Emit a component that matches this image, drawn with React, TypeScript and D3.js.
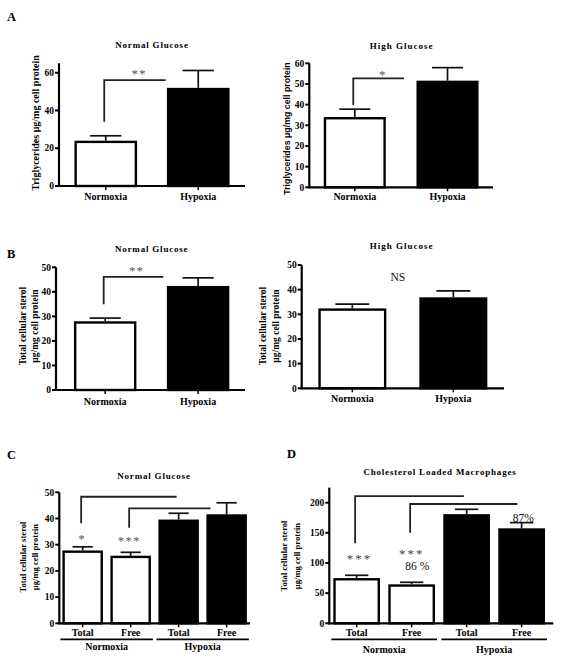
import React from "react";
import * as d3 from "d3";

const SERIF = "'Liberation Serif', 'Times New Roman', serif";
const SANS = "'Liberation Sans', Arial, sans-serif";

// ---------- Data ----------
const twoCats = ["Normoxia", "Hypoxia"];

const aNormalVals = [24, 52];
const aNormalErr = [2.6, 9.2];
const aNormalTicks = [0, 20, 40, 60];

const aHighVals = [34, 51.6];
const aHighErr = [3.8, 6.3];
const aHighTicks = [0, 10, 20, 30, 40, 50, 60];

const bNormalVals = [28, 42.4];
const bNormalErr = [1.3, 3.3];
const bHighVals = [32.4, 36.9];
const bHighErr = [1.7, 2.6];
const bTicks = [0, 10, 20, 30, 40, 50];

const fourCats = ["Total", "Free", "Total", "Free"];
const fourGroups = ["Normoxia", "Hypoxia"];

const cVals = [27.8, 25.8, 39.6, 41.6];
const cErr = [1.4, 1.3, 2.4, 4.4];
const cTicks = [0, 10, 20, 30, 40, 50];

const dVals = [75, 64.6, 181, 157.5];
const dErr = [4.6, 3.4, 8, 9.4];
const dTicks = [0, 50, 100, 150, 200];

type Bracket = { from: number; to: number; toPos: number; low: number; high: number };
type Note = { text: string; i: number; frac: number; v: number; size: number; weight?: string; ls?: number; fill?: string };

interface PanelProps {
  cats: string[];
  vals: number[];
  errs: number[];
  fills: string[];
  ticks: number[];
  max: number;
  x0: number;
  x1: number;
  y0: number;
  yTop: number;
  pi: number;
  po: number;
  align?: number;
  title: string;
  titleX: number;
  titleY: number;
  titleLs?: number;
  yLabel: string[];
  yLabelX: number[];
  yLabelY: number;
  yLabelSize: number;
  yLabelFont?: string;
  catY: number;
  catSize?: number;
  groups?: string[];
  groupLineY?: number;
  groupY?: number;
  brackets: Bracket[];
  notes: Note[];
  letter?: string;
  letterX?: number;
  letterY?: number;
}

function Panel(p: PanelProps) {
  const x = d3
    .scaleBand<number>()
    .domain(p.cats.map((_, i) => i))
    .range([p.x0, p.x1])
    .paddingInner(p.pi)
    .paddingOuter(p.po)
    .align(p.align ?? 0.5);
  const y = d3.scaleLinear().domain([0, p.max]).range([p.y0, p.yTop]);
  const bw = x.bandwidth();
  const cx = (i: number) => (x(i) as number) + bw / 2;

  return (
    <g>
      {p.letter && (
        <text x={p.letterX} y={p.letterY} fontFamily={SERIF} fontWeight="bold" fontSize={12.5}>
          {p.letter}
        </text>
      )}
      <text
        x={p.titleX}
        y={p.titleY}
        textAnchor="middle"
        fontFamily={SERIF}
        fontWeight="bold"
        fontSize={9}
        letterSpacing={p.titleLs ?? 0.8}
      >
        {p.title}
      </text>
      {p.yLabel.map((l, k) => (
        <text
          key={k}
          transform={`translate(${p.yLabelX[k]},${p.yLabelY}) rotate(-90)`}
          textAnchor="middle"
          fontFamily={p.yLabelFont ?? SERIF}
          fontWeight="bold"
          fontSize={p.yLabelSize}
        >
          {l}
        </text>
      ))}
      {p.vals.map((v, i) => (
        <g key={i}>
          <line x1={cx(i)} x2={cx(i)} y1={y(v)} y2={y(v + p.errs[i])} stroke="#111" strokeWidth={1.7} />
          <line
            x1={cx(i) - bw / 4}
            x2={cx(i) + bw / 4}
            y1={y(v + p.errs[i])}
            y2={y(v + p.errs[i])}
            stroke="#111"
            strokeWidth={1.7}
          />
          <rect
            x={(x(i) as number) + 1.2}
            y={y(v) + 1.2}
            width={bw - 2.4}
            height={y(0) - y(v) - 1.2}
            fill={p.fills[i]}
            stroke="#000"
            strokeWidth={2.4}
          />
        </g>
      ))}
      {p.brackets.map((b, k) => {
        const bx = cx(b.from) - 1.5;
        const ex = (x(b.to) as number) + b.toPos * bw;
        return (
          <path
            key={k}
            d={`M${bx},${y(b.low)}V${y(b.high)}H${ex}`}
            fill="none"
            stroke="#222"
            strokeWidth={1.8}
          />
        );
      })}
      {p.notes.map((n, k) => (
        <text
          key={k}
          x={(x(n.i) as number) + n.frac * bw}
          y={y(n.v)}
          textAnchor="middle"
          fontFamily={SERIF}
          fontWeight={n.weight ?? "normal"}
          fontSize={n.size}
          letterSpacing={n.ls ?? 0}
          fill={n.fill ?? "#111"}
        >
          {n.text}
        </text>
      ))}
      <line x1={p.x0} x2={p.x0} y1={y(0) + 1} y2={p.yTop} stroke="#000" strokeWidth={2.2} />
      <line x1={p.x0 - 1} x2={p.x1} y1={y(0)} y2={y(0)} stroke="#000" strokeWidth={2.2} />
      {p.ticks.map((t) => (
        <g key={t}>
          <line x1={p.x0 - 4} x2={p.x0} y1={y(t)} y2={y(t)} stroke="#000" strokeWidth={2} />
          <text
            x={p.x0 - 5}
            y={y(t) + 3.2}
            textAnchor="end"
            fontFamily={SERIF}
            fontWeight="bold"
            fontSize={9.5}
          >
            {t}
          </text>
        </g>
      ))}
      {p.cats.map((c, i) => (
        <g key={i}>
          <line x1={cx(i)} x2={cx(i)} y1={y(0)} y2={y(0) + 4} stroke="#000" strokeWidth={1.5} />
          <text
            x={cx(i)}
            y={p.catY}
            textAnchor="middle"
            fontFamily={SERIF}
            fontWeight="bold"
            fontSize={p.catSize ?? 10}
          >
            {c}
          </text>
        </g>
      ))}
      {p.groups &&
        p.groups.map((g, gi) => {
          const first = gi * 2;
          const last = gi * 2 + 1;
          const gx0 = (x(first) as number) - 2;
          const gx1 = (x(last) as number) + bw + 2;
          return (
            <g key={g}>
              <line x1={gx0} x2={gx1} y1={p.groupLineY} y2={p.groupLineY} stroke="#000" strokeWidth={1.8} />
              <text
                x={(gx0 + gx1) / 2}
                y={p.groupY}
                textAnchor="middle"
                fontFamily={SERIF}
                fontWeight="bold"
                fontSize={10}
              >
                {g}
              </text>
            </g>
          );
        })}
    </g>
  );
}

export default function App() {
  const wb = ["white", "black"];
  const wwbb = ["white", "white", "black", "black"];
  const star = { size: 13, ls: 1, fill: "#555" };
  return (
    <svg
      width={562}
      height={656}
      viewBox="0 0 562 656"
      style={{ position: "absolute", left: 0, top: 0, background: "#fff" }}
    >
      <rect width={562} height={656} fill="#fff" />
      <Panel
        letter="A"
        letterX={7}
        letterY={20.5}
        cats={twoCats}
        vals={aNormalVals}
        errs={aNormalErr}
        fills={wb}
        ticks={aNormalTicks}
        max={65}
        x0={59}
        x1={245}
        y0={186}
        yTop={63.3}
        pi={0.323}
        po={0.167}
        title="Normal Glucose"
        titleX={152}
        titleY={48}
        yLabel={["Triglycerides μg/mg cell protein"]}
        yLabelX={[38.5]}
        yLabelY={123}
        yLabelSize={10}
        catY={199.5}
        brackets={[{ from: 0, to: 1, toPos: -0.02, low: 34, high: 56.1 }]}
        notes={[{ text: "**", i: 0, frac: 1.03, v: 57.2, ...star }]}
      />
      <Panel
        cats={twoCats}
        vals={aHighVals}
        errs={aHighErr}
        fills={wb}
        ticks={aHighTicks}
        max={60}
        x0={309.3}
        x1={493}
        y0={187.3}
        yTop={63.3}
        pi={0.331}
        po={0.156}
        title="High Glucose"
        titleX={401.7}
        titleY={48.5}
        titleLs={1}
        yLabel={["Triglycerides μg/mg cell protein"]}
        yLabelX={[289.5]}
        yLabelY={128.5}
        yLabelSize={8.8}
        yLabelFont={SANS}
        catY={200}
        brackets={[{ from: 0, to: 1, toPos: -0.2, low: 39.8, high: 52.7 }]}
        notes={[{ text: "*", i: 0, frac: 0.95, v: 52.2, ...star }]}
      />
      <Panel
        letter="B"
        letterX={7}
        letterY={258.3}
        cats={twoCats}
        vals={bNormalVals}
        errs={bNormalErr}
        fills={wb}
        ticks={bTicks}
        max={50}
        x0={56}
        x1={245}
        y0={390}
        yTop={267.3}
        pi={0.328}
        po={0.181}
        align={0.534}
        title="Normal Glucose"
        titleX={151.7}
        titleY={251.5}
        yLabel={["Total cellular sterol", "μg/mg cell protein"]}
        yLabelX={[25.5, 37.5]}
        yLabelY={326}
        yLabelSize={9.5}
        catY={404.5}
        brackets={[{ from: 0, to: 1, toPos: -0.055, low: 34.9, high: 46.1 }]}
        notes={[{ text: "**", i: 0, frac: 1.0, v: 46.8, ...star }]}
      />
      <Panel
        cats={twoCats}
        vals={bHighVals}
        errs={bHighErr}
        fills={wb}
        ticks={bTicks}
        max={50}
        x0={301.7}
        x1={504}
        y0={388.3}
        yTop={265}
        pi={0.327}
        po={0.165}
        title="High Glucose"
        titleX={401.7}
        titleY={249.3}
        titleLs={1}
        yLabel={["Total cellular sterol", "μg/mg cell protein"]}
        yLabelX={[266, 278.8]}
        yLabelY={326}
        yLabelSize={9.5}
        catY={402}
        brackets={[]}
        notes={[{ text: "NS", i: 0, frac: 1.17, v: 43.7, size: 11.5 }]}
      />
      <Panel
        letter="C"
        letterX={7}
        letterY={458.5}
        cats={fourCats}
        vals={cVals}
        errs={cErr}
        fills={wwbb}
        ticks={cTicks}
        max={50}
        x0={59.3}
        x1={250}
        y0={623.3}
        yTop={492.3}
        pi={0.156}
        po={0.065}
        title="Normal Glucose"
        titleX={154}
        titleY={479.3}
        yLabel={["Total cellular sterol", "μg/mg cell protein"]}
        yLabelX={[26, 37.8]}
        yLabelY={557}
        yLabelSize={8.6}
        catY={636}
        groups={fourGroups}
        groupLineY={639.3}
        groupY={650.3}
        brackets={[
          { from: 0, to: 2, toPos: 0.45, low: 38.2, high: 48.3 },
          { from: 1, to: 3, toPos: 0.1, low: 36.5, high: 43.9 },
        ]}
        notes={[
          { text: "*", i: 0, frac: 0.485, v: 30.8, ...star },
          { text: "***", i: 1, frac: 0.47, v: 29.8, size: 12.5, ls: 1.5, fill: "#555" },
        ]}
      />
      <Panel
        letter="D"
        letterX={287}
        letterY={458.3}
        cats={fourCats}
        vals={dVals}
        errs={dErr}
        fills={wwbb}
        ticks={dTicks}
        max={225}
        x0={329.3}
        x1={553.3}
        y0={623.3}
        yTop={487.6}
        pi={0.151}
        po={0.112}
        align={0.325}
        title="Cholesterol Loaded Macrophages"
        titleX={440}
        titleY={475}
        yLabel={["Total cellular sterol", "μg/mg cell protein"]}
        yLabelX={[287, 300]}
        yLabelY={556}
        yLabelSize={8.6}
        catY={635.5}
        groups={fourGroups}
        groupLineY={639.3}
        groupY={652.5}
        brackets={[
          { from: 0, to: 2, toPos: 0.44, low: 132.7, high: 211 },
          { from: 1, to: 3, toPos: 0.41, low: 150.2, high: 197.8 },
        ]}
        notes={[
          { text: "***", i: 0, frac: 0.56, v: 100.5, size: 13, ls: 2, fill: "#444" },
          { text: "***", i: 1, frac: 0.5, v: 108.8, size: 13, ls: 2, fill: "#444" },
          { text: "86 %", i: 1, frac: 0.62, v: 88.9, size: 11.5 },
          { text: "87%", i: 3, frac: 0.535, v: 168.5, size: 11.5 },
        ]}
      />
    </svg>
  );
}
